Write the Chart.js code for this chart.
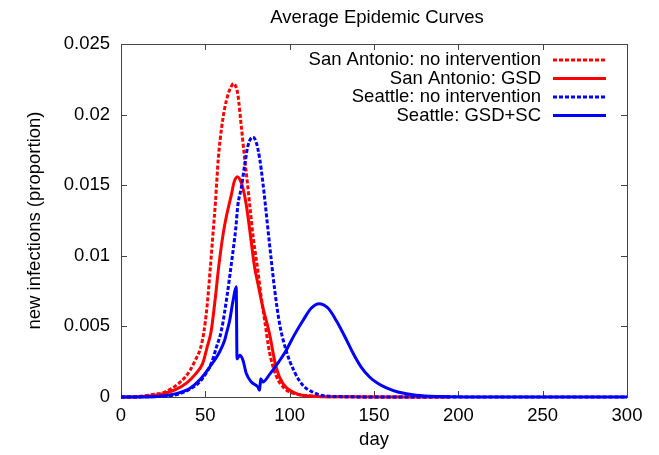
<!DOCTYPE html>
<html>
<head>
<meta charset="utf-8">
<script src="https://cdn.jsdelivr.net/npm/chart.js@4.4.1/dist/chart.umd.min.js"></script>
<style>
  html, body { margin: 0; padding: 0; background: #fff; }
</style>
</head>
<body>
<canvas id="chart" width="659" height="455"></canvas>
<script>
// values (day, proportion of new infections)
const saNoneDays = [0, 10, 20, 25, 30, 34, 38, 41, 44, 47, 49, 51, 53, 54.5, 56, 57.7, 59.8, 61.4, 63.4, 65, 66.8, 68, 69.3, 71.3, 73.3, 75, 76.5, 78.5, 81.2, 83, 85.2, 88, 92, 97, 104, 110, 120, 140, 195];
const saNoneVals = [0, 0.00003, 0.0002, 0.0003, 0.0006, 0.00095, 0.0014, 0.0019, 0.0026, 0.0034, 0.0045, 0.0064, 0.0092, 0.0115, 0.0138, 0.0169, 0.0192, 0.0204, 0.0214, 0.0219, 0.0222, 0.0220, 0.0214, 0.0192, 0.0169, 0.0151, 0.0134, 0.0112, 0.0089, 0.0072, 0.0054, 0.0032, 0.0015, 0.0006, 0.0002, 0.0001, 0.00003, 0.00001, 0];

const saGsdDays = [0, 10, 20, 25, 32, 39, 44, 48.5, 51, 53.5, 56, 58, 60.5, 62.5, 64, 65.4, 67, 69, 70.5, 72.3, 74.3, 76.9, 79.2, 81.2, 84, 88, 92, 96, 102, 108, 116, 130, 160, 195];
const saGsdVals = [0, 0.00002, 0.00012, 0.00024, 0.0005, 0.001, 0.0016, 0.0024, 0.0035, 0.0047, 0.0071, 0.0093, 0.0115, 0.0128, 0.0136, 0.0143, 0.0152, 0.0156, 0.0154, 0.0148, 0.0136, 0.0113, 0.0092, 0.0080, 0.0064, 0.0045, 0.0021, 0.00095, 0.00035, 0.0001, 0.00004, 0.00001, 0, 0];

const seaNoneDays = [0, 20, 30, 35, 40, 45.6, 50, 53.6, 56.5, 59.5, 62.8, 65.5, 68, 69.3, 71.3, 73.3, 75.3, 78.2, 80, 82.2, 84.1, 85.6, 87.1, 89, 91.1, 94, 97.9, 102.9, 107.8, 113.7, 119.6, 130, 150, 300];
const seaNoneVals = [0, 0.00003, 0.0001, 0.00024, 0.0005, 0.00095, 0.0016, 0.0024, 0.0035, 0.0047, 0.0071, 0.0095, 0.0119, 0.0136, 0.0148, 0.0164, 0.0178, 0.0184, 0.0181, 0.0169, 0.0152, 0.0136, 0.0119, 0.0098, 0.0076, 0.0052, 0.0033, 0.00177, 0.00083, 0.00035, 0.0001, 0.00003, 0, 0];

const seaGsdScDays = [0, 20, 32.8, 40.7, 46.6, 52.5, 58.5, 61.4, 62.5, 64.4, 66.4, 68.3, 68.8, 70.4, 72.3, 74.3, 77.3, 81.2, 82.2, 82.8, 84.1, 88.1, 93, 97.9, 102.8, 107.8, 112.9, 117.4, 122.7, 127.7, 132.6, 137.6, 142.5, 147.5, 152.4, 157.4, 164.2, 175, 190, 210, 300];
const seaGsdScVals = [0, 0.00002, 0.00024, 0.0006, 0.0012, 0.0021, 0.0032, 0.004, 0.0045, 0.0054, 0.0068, 0.0078, 0.0027, 0.00295, 0.0026, 0.00166, 0.00106, 0.0007, 0.00047, 0.0013, 0.00106, 0.0016, 0.0024, 0.0033, 0.0044, 0.0054, 0.0063, 0.0066, 0.0063, 0.0054, 0.0043, 0.0031, 0.0021, 0.0014, 0.00095, 0.00064, 0.00035, 0.00012, 0.00003, 0, 0];

const seriesLabels = ['San Antonio: no intervention', 'San Antonio: GSD', 'Seattle: no intervention', 'Seattle: GSD+SC'];
const seriesColors = ['#ff0000', '#ff0000', '#0000ff', '#0000ff'];
const seriesDashed = [true, false, true, false];

const xTicks = [0, 50, 100, 150, 200, 250, 300];
const yTicks = [0, 0.005, 0.01, 0.015, 0.02, 0.025];

const FONT = '"Liberation Sans", Arial, sans-serif';
const FSIZE = 18.5;
const DASH = [4, 2];

function toPoints(days, vals) {
    return days.map((d, i) => ({ x: d, y: vals[i] }));
}

const seriesData = [
    toPoints(saNoneDays, saNoneVals),
    toPoints(saGsdDays, saGsdVals),
    toPoints(seaNoneDays, seaNoneVals),
    toPoints(seaGsdScDays, seaGsdScVals)
];

// frame, inward ticks on all four sides, title (gnuplot look)
const framePlugin = {
    id: 'frame',
    beforeDatasetsDraw(chart) {
        const { ctx, chartArea: a, scales } = chart;
        ctx.save();
        ctx.strokeStyle = '#444';
        ctx.lineWidth = 1;
        ctx.strokeRect(a.left + 0.5, a.top + 0.5, a.right - a.left, a.bottom - a.top);
        ctx.beginPath();
        xTicks.forEach(t => {
            const x = Math.round(scales.x.getPixelForValue(t)) + 0.5;
            ctx.moveTo(x, a.bottom); ctx.lineTo(x, a.bottom - 6);
            ctx.moveTo(x, a.top); ctx.lineTo(x, a.top + 6);
        });
        yTicks.forEach(t => {
            const y = Math.round(scales.y.getPixelForValue(t)) + 0.5;
            ctx.moveTo(a.left, y); ctx.lineTo(a.left + 6, y);
            ctx.moveTo(a.right, y); ctx.lineTo(a.right - 6, y);
        });
        ctx.stroke();
        ctx.restore();
    },
    afterDraw(chart) {
        const { ctx, chartArea: a } = chart;
        ctx.save();
        ctx.fillStyle = '#000';
        ctx.font = FSIZE + 'px ' + FONT;
        ctx.textAlign = 'center';
        ctx.textBaseline = 'middle';
        ctx.fillText('Average Epidemic Curves', (a.left + a.right) / 2 + 3, 18);

        // key, top right inside the plot
        const textRight = 541, lineL = 553, lineR = 606;
        const rows = [60, 78.5, 97, 115.5];
        ctx.textAlign = 'right';
        seriesLabels.forEach((lab, i) => {
            ctx.fillStyle = '#000';
            ctx.fillText(lab, textRight, rows[i]);
            ctx.strokeStyle = seriesColors[i];
            ctx.lineWidth = 3;
            ctx.setLineDash(seriesDashed[i] ? DASH : []);
            ctx.beginPath();
            ctx.moveTo(lineL, rows[i]);
            ctx.lineTo(lineR, rows[i]);
            ctx.stroke();
        });
        ctx.restore();
    }
};

const datasets = seriesLabels.map((lab, i) => ({
    label: lab,
    data: seriesData[i],
    borderColor: seriesColors[i],
    borderWidth: 3,
    borderDash: seriesDashed[i] ? DASH : [],
    pointRadius: 0,
    fill: false,
    cubicInterpolationMode: 'monotone',
    clip: 4,
    order: 3 - i
}));

new Chart(document.getElementById('chart'), {
    type: 'line',
    data: { datasets },
    options: {
        responsive: false,
        animation: false,
        layout: { padding: { top: 44, right: 32, left: 0, bottom: 0 } },
        plugins: {
            legend: { display: false },
            tooltip: { enabled: false }
        },
        scales: {
            x: {
                type: 'linear',
                min: 0,
                max: 300,
                afterFit: s => { s.height = 58; },
                afterBuildTicks: s => { s.ticks = xTicks.map(v => ({ value: v })); },
                grid: { display: false, drawTicks: false },
                border: { display: false },
                ticks: { color: '#000', padding: 8, maxRotation: 0, font: { family: FONT, size: FSIZE } },
                title: { display: true, text: 'day', color: '#000', padding: { top: 0, bottom: 4 }, font: { family: FONT, size: FSIZE } }
            },
            y: {
                min: 0,
                max: 0.025,
                afterFit: s => { s.width = 121; },
                afterBuildTicks: s => { s.ticks = yTicks.map(v => ({ value: v })); },
                grid: { display: false, drawTicks: false },
                border: { display: false },
                ticks: {
                    color: '#000',
                    padding: 11,
                    font: { family: FONT, size: FSIZE },
                    callback: v => String(+v.toFixed(3))
                },
                title: { display: true, text: 'new infections (proportion)', color: '#000', padding: { top: 24, bottom: 0 }, font: { family: FONT, size: FSIZE } }
            }
        }
    },
    plugins: [framePlugin]
});
</script>
</body>
</html>
